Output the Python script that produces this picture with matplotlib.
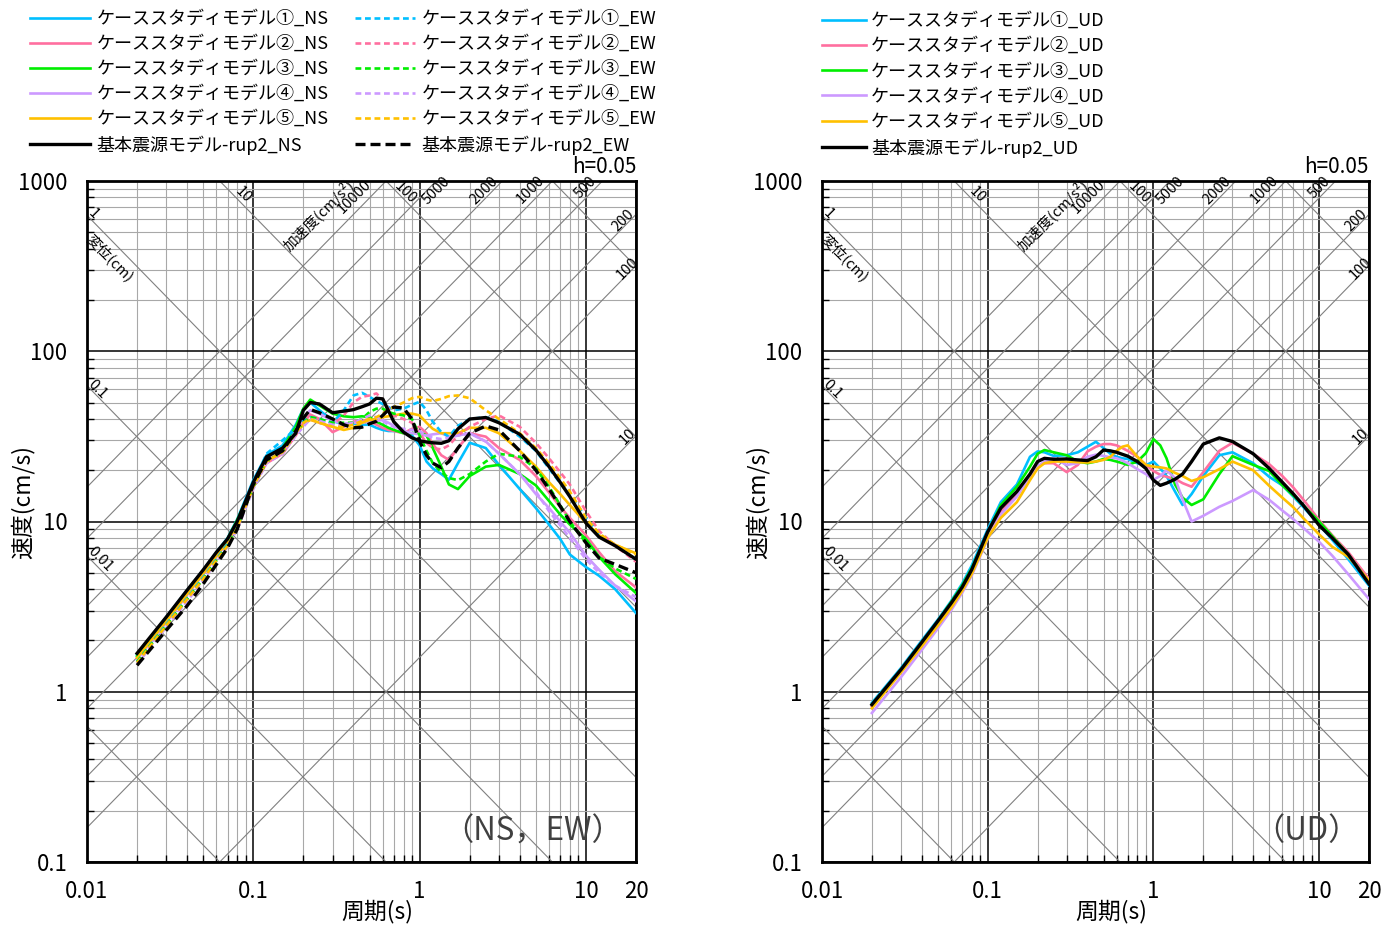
import numpy as np
import matplotlib
matplotlib.use("Agg")
import matplotlib.pyplot as plt
from matplotlib.ticker import LogLocator, FixedLocator, FixedFormatter, NullFormatter

plt.rcParams['font.family'] = ['Noto Sans CJK JP', 'DejaVu Sans']

# period (s)
period = [0.02, 0.03, 0.04, 0.05, 0.06, 0.07, 0.08, 0.1, 0.12, 0.15, 0.18, 0.2, 0.22,
          0.25, 0.3, 0.35, 0.4, 0.45, 0.5, 0.55, 0.6, 0.65, 0.7, 0.8, 0.9, 1.0, 1.1,
          1.2, 1.35, 1.5, 1.7, 2.0, 2.5, 3.0, 4.0, 5.0, 6.0, 7.0, 8.0, 10, 12, 15, 20]

# pseudo velocity response (cm/s), NS
case1_ns = [1.65, 2.75, 3.95, 5.2, 6.6, 8.0, 10.3, 17.5, 24.5, 28.0, 37.0, 46.0, 50.0, 45.0, 39.0,
            37.0, 37.5, 37.0, 37.0, 35.5, 34.5, 34.0, 34.0, 33.5, 32.0, 28.0, 22.5, 20.5, 19.0,
            17.6, 22.0, 29.0, 27.0, 21.5, 15.5, 12.0, 9.6, 7.9, 6.4, 5.4, 4.8, 4.0, 2.9]
case2_ns = [1.58, 2.6, 3.75, 4.95, 6.3, 7.6, 9.6, 16.0, 22.0, 25.0, 32.0, 38.0, 42.5, 40.0, 33.5,
            36.0, 38.5, 39.5, 39.0, 37.0, 35.5, 34.5, 34.0, 33.0, 35.0, 36.0, 33.0, 28.5, 24.5,
            23.0, 27.0, 33.0, 31.5, 27.0, 23.0, 18.5, 14.8, 12.2, 10.5, 8.3, 6.6, 5.1, 4.1]
case3_ns = [1.62, 2.65, 3.8, 5.0, 6.4, 7.9, 10.2, 16.5, 23.5, 27.0, 36.0, 46.0, 52.0, 48.0, 43.0,
            41.5, 41.0, 41.5, 41.0, 38.5, 37.0, 35.5, 34.5, 33.0, 33.0, 33.5, 32.0, 27.0, 21.0,
            16.5, 15.5, 18.5, 21.0, 21.5, 19.0, 16.3, 13.2, 11.0, 9.6, 7.9, 6.2, 4.9, 3.8]
case4_ns = [1.55, 2.55, 3.7, 4.9, 6.2, 7.6, 9.6, 16.0, 23.0, 26.0, 34.0, 41.0, 45.0, 43.0, 39.0,
            37.5, 38.0, 38.0, 38.5, 39.0, 39.5, 38.0, 36.5, 34.0, 33.0, 32.5, 32.0, 32.5, 33.0,
            31.5, 32.0, 33.0, 29.5, 25.0, 19.0, 14.5, 12.0, 10.0, 8.6, 6.3, 5.2, 4.2, 3.4]
case5_ns = [1.58, 2.6, 3.75, 4.95, 6.3, 7.6, 9.6, 16.0, 22.5, 26.0, 33.0, 37.0, 39.5, 38.0, 36.0,
            34.5, 35.5, 38.0, 39.5, 40.0, 41.0, 41.5, 42.0, 43.0, 43.0, 42.0, 38.0, 35.0, 33.0,
            33.0, 33.0, 35.5, 35.5, 33.0, 26.0, 21.0, 17.0, 14.5, 12.5, 9.8, 8.3, 7.3, 6.5]
base_ns = [1.68, 2.75, 3.95, 5.2, 6.6, 7.9, 10.0, 17.0, 24.0, 27.0, 33.0, 45.0, 50.0, 49.0, 43.5,
           44.5, 45.4, 47.2, 49.0, 53.0, 52.5, 44.6, 38.5, 33.5, 31.0, 29.8, 29.3, 29.0, 28.8,
           29.8, 35.0, 40.0, 40.8, 38.0, 32.5, 26.3, 21.0, 17.0, 14.0, 9.8, 8.1, 7.2, 6.0]

# EW
case1_ew = [1.5, 2.5, 3.55, 4.7, 6.0, 7.4, 9.5, 16.5, 25.0, 30.0, 35.0, 39.0, 41.0, 40.0, 38.0,
            45.0, 55.0, 57.0, 54.0, 51.0, 49.0, 47.0, 45.0, 46.0, 48.5, 50.5, 45.0, 38.5, 33.5,
            31.5, 36.5, 40.0, 41.0, 38.5, 31.5, 26.0, 20.5, 16.8, 14.2, 10.6, 8.5, 7.2, 6.0]
case2_ew = [1.48, 2.45, 3.5, 4.6, 5.9, 7.2, 9.2, 16.0, 22.5, 25.0, 33.0, 38.0, 40.0, 38.0, 37.0,
            42.0, 50.0, 54.0, 55.0, 56.5, 52.0, 46.0, 42.0, 40.0, 38.0, 33.0, 29.0, 27.0, 26.5,
            28.0, 32.0, 36.0, 40.0, 42.0, 36.0, 29.0, 23.5, 19.5, 16.5, 11.5, 8.8, 7.2, 5.8]
case3_ew = [1.5, 2.45, 3.5, 4.6, 5.9, 7.2, 9.2, 16.0, 22.5, 25.5, 33.0, 38.0, 41.0, 40.0, 38.0,
            38.0, 38.0, 40.0, 44.0, 46.0, 46.0, 44.0, 43.0, 42.0, 40.0, 32.0, 26.0, 22.0, 19.5,
            18.0, 17.5, 19.0, 22.5, 25.0, 24.0, 20.5, 16.0, 12.5, 10.0, 7.5, 6.2, 5.3, 4.6]
case4_ew = [1.45, 2.4, 3.4, 4.5, 5.8, 7.1, 9.0, 15.5, 22.0, 25.0, 32.0, 36.0, 40.0, 39.0, 37.0,
            37.0, 38.0, 40.0, 42.0, 41.0, 39.0, 37.0, 36.0, 35.0, 34.5, 34.0, 32.0, 31.0, 30.5,
            31.0, 32.0, 33.0, 29.5, 25.0, 19.0, 15.0, 11.5, 9.5, 8.0, 6.0, 5.0, 4.2, 3.6]
case5_ew = [1.48, 2.45, 3.5, 4.6, 5.9, 7.2, 9.2, 16.0, 22.5, 25.5, 33.0, 38.0, 40.0, 38.0, 36.0,
            36.0, 37.0, 39.0, 40.0, 41.0, 43.0, 45.5, 47.0, 50.0, 53.0, 54.0, 52.0, 51.0, 52.5,
            54.5, 55.0, 53.0, 45.0, 40.0, 33.0, 27.0, 22.0, 18.0, 15.0, 10.5, 8.5, 7.3, 6.4]
base_ew = [1.43, 2.3, 3.2, 4.3, 5.6, 7.0, 9.0, 16.5, 23.0, 26.0, 34.0, 40.5, 45.5, 43.5, 40.0,
           37.0, 35.5, 35.8, 37.5, 38.8, 42.0, 45.4, 47.0, 46.4, 40.0, 29.5, 24.5, 22.0, 20.7,
           22.5, 27.0, 33.0, 36.4, 34.5, 26.0, 20.0, 15.5, 12.3, 10.0, 7.5, 6.1, 5.6, 5.0]

# UD
case1_ud = [0.86, 1.38, 2.0, 2.65, 3.4, 4.3, 5.5, 9.0, 13.0, 16.5, 24.0, 25.8, 25.5, 24.3, 24.5,
            25.5, 27.5, 29.4, 27.0, 25.0, 24.0, 23.5, 23.3, 22.0, 21.4, 22.5, 20.5, 18.5, 15.0,
            12.5, 14.5, 18.5, 24.5, 25.5, 22.0, 18.3, 16.3, 14.0, 12.2, 9.6, 7.8, 6.0, 4.2]
case2_ud = [0.82, 1.32, 1.9, 2.55, 3.25, 4.1, 5.2, 8.5, 11.5, 14.5, 18.5, 21.0, 22.0, 22.0, 19.5,
            21.5, 25.8, 27.5, 28.5, 28.5, 28.0, 27.0, 26.0, 24.0, 21.5, 19.8, 18.8, 18.3, 17.8,
            16.8, 16.0, 19.5, 26.0, 29.0, 25.0, 21.7, 18.5, 15.8, 13.5, 10.2, 8.3, 6.6, 4.6]
case3_ud = [0.84, 1.35, 1.95, 2.6, 3.35, 4.2, 5.3, 8.6, 12.5, 16.0, 21.0, 25.0, 26.3, 25.5, 24.5,
            22.5, 22.0, 22.5, 23.3, 23.0, 22.5, 22.0, 21.5, 22.5, 25.2, 30.5, 28.0, 23.5, 16.5,
            13.8, 12.5, 13.5, 19.0, 24.2, 21.5, 19.8, 16.3, 14.2, 12.5, 10.0, 8.2, 6.4, 4.4]
case4_ud = [0.75, 1.22, 1.76, 2.35, 3.0, 3.8, 4.8, 7.9, 11.0, 14.0, 18.5, 21.0, 22.5, 23.5, 21.5,
            22.0, 24.0, 24.7, 24.3, 23.8, 23.5, 22.8, 22.0, 20.3, 19.0, 17.6, 18.5, 20.0, 18.0,
            13.5, 10.0, 10.8, 12.2, 13.2, 15.3, 13.4, 11.6, 10.3, 9.2, 7.6, 6.3, 4.9, 3.5]
case5_ud = [0.80, 1.30, 1.85, 2.45, 3.1, 3.9, 4.9, 8.0, 10.5, 13.0, 17.5, 20.5, 22.0, 22.5, 22.5,
            22.3, 22.2, 22.5, 23.0, 24.0, 26.0, 27.5, 28.0, 24.0, 21.5, 21.0, 20.8, 20.5, 19.3,
            18.5, 17.3, 18.2, 20.3, 22.5, 20.0, 16.2, 13.8, 12.1, 10.5, 8.4, 7.1, 6.2, 4.5]
base_ud = [0.84, 1.35, 1.95, 2.6, 3.3, 4.1, 5.2, 8.7, 12.0, 15.0, 19.0, 22.5, 23.5, 23.2, 23.3,
           23.0, 22.8, 24.0, 26.3, 26.0, 25.5, 24.8, 24.2, 22.5, 20.5, 17.5, 16.3, 16.8, 17.7,
           19.0, 22.5, 28.5, 31.0, 29.5, 25.0, 20.5, 17.0, 14.5, 12.5, 9.5, 8.0, 6.4, 4.3]

case_names = ['ケーススタディモデル①', 'ケーススタディモデル②', 'ケーススタディモデル③',
              'ケーススタディモデル④', 'ケーススタディモデル⑤']
base_name = '基本震源モデル-rup2'
case_colors = ['#00BFFF', '#FF6F9F', '#00EE00', '#CC99FF', '#FFC000']

# tripartite guide lines
disp_values = [0.001, 0.01, 0.1, 1, 10, 100, 1000]          # cm
acc_values = [10, 100, 200, 500, 1000, 2000, 5000, 10000]     # cm/s2
disp_labels = [('1', 0.01087, 640), ('0.1', 0.0115, 59.3), ('0.01', 0.012, 5.96),
               ('10', 0.0871, 828), ('100', 0.823, 850)]
acc_labels = [('10000', 0.405, 805), ('5000', 1.26, 874), ('2000', 2.43, 874),
              ('1000', 4.67, 885), ('500', 10.0, 910), ('200', 16.7, 590),
              ('100', 17.7, 308), ('10', 17.9, 31.7)]

fig = plt.figure(figsize=(13.84, 9.26), dpi=100)
W, H = 1384, 926
ax1 = fig.add_axes([87 / W, 64 / H, 549 / W, 681 / H])
ax2 = fig.add_axes([822 / W, 64 / H, 547 / W, 681 / H])


def setup(ax, tag, tag_x):
    ax.set_xscale('log')
    ax.set_yscale('log')

    t_line = np.array([0.001, 100.0])
    for d in disp_values:
        ax.plot(t_line, 2 * np.pi * d / t_line, color='#808080', lw=0.8, zorder=1)
    for a in acc_values:
        ax.plot(t_line, a * t_line / (2 * np.pi), color='#808080', lw=0.8, zorder=1)
    ax.set_xlim(0.01, 20)
    ax.set_ylim(0.1, 1000)

    for txt, t, v in disp_labels:
        ax.text(t, v, txt, rotation=-45, rotation_mode='anchor', ha='center', va='center',
                fontsize=10.5, zorder=3, clip_on=False)
    for txt, t, v in acc_labels:
        ax.text(t, v, txt, rotation=45, rotation_mode='anchor', ha='center', va='center',
                fontsize=10.5, zorder=3, clip_on=False)
    ax.text(0.01376, 353, '変位(cm)', rotation=-45, rotation_mode='anchor', ha='center',
            va='center', fontsize=10.5, zorder=3)
    ax.text(0.247, 631, '加速度(cm/s²)', rotation=45, rotation_mode='anchor', ha='center',
            va='center', fontsize=10.5, zorder=3)

    ax.xaxis.set_major_locator(FixedLocator([0.01, 0.1, 1, 10, 20]))
    ax.xaxis.set_major_formatter(FixedFormatter(['0.01', '0.1', '1', '10', '20']))
    ax.yaxis.set_major_locator(FixedLocator([0.1, 1, 10, 100, 1000]))
    ax.yaxis.set_major_formatter(FixedFormatter(['0.1', '1', '10', '100', '1000']))
    ax.xaxis.set_minor_locator(LogLocator(base=10, subs=np.arange(2, 10), numticks=20))
    ax.yaxis.set_minor_locator(LogLocator(base=10, subs=np.arange(2, 10), numticks=20))
    ax.xaxis.set_minor_formatter(NullFormatter())
    ax.yaxis.set_minor_formatter(NullFormatter())
    ax.tick_params(which='major', length=0, labelsize=16)
    ax.tick_params(axis='x', which='major', pad=13)
    ax.tick_params(axis='y', which='major', pad=14)
    ax.tick_params(which='minor', direction='in', length=5, width=1, color='black')

    ax.grid(True, which='major', color='black', lw=1.1)
    ax.grid(True, which='minor', color='#A8A8A8', lw=0.8)
    ax.set_axisbelow(True)
    for s in ax.spines.values():
        s.set_linewidth(2.0)

    ax.set_xlabel('周期(s)', fontsize=16.5, va='center')
    ax.set_ylabel('速度(cm/s)', fontsize=16.5, va='center')
    ax.xaxis.set_label_coords(0.528, -0.073)
    ax.yaxis.set_label_coords(-0.118, 0.528)
    ax.text(1.0, 1.004, 'h=0.05', transform=ax.transAxes, ha='right', va='bottom', fontsize=15)
    ax.text(tag_x, 0.045, tag, transform=ax.transAxes, ha='center', va='center',
            fontsize=22.5, color='#404040', zorder=3)


setup(ax1, '（NS，EW）', 0.812)
setup(ax2, '（UD）', 0.885)

ns_series = [case1_ns, case2_ns, case3_ns, case4_ns, case5_ns]
ew_series = [case1_ew, case2_ew, case3_ew, case4_ew, case5_ew]
ud_series = [case1_ud, case2_ud, case3_ud, case4_ud, case5_ud]

dash_c = (0, (2.2, 1.4))
dash_k = (0, (3.0, 1.5))

h_ns, h_ew, h_ud = [], [], []
for name, col, vals in zip(case_names, case_colors, ns_series):
    ln, = ax1.plot(period, vals, color=col, lw=1.9, zorder=4, label=name + '_NS')
    h_ns.append(ln)
for name, col, vals in zip(case_names, case_colors, ew_series):
    ln, = ax1.plot(period, vals, color=col, lw=1.9, ls=dash_c, zorder=4, label=name + '_EW')
    h_ew.append(ln)
ln, = ax1.plot(period, base_ns, color='black', lw=2.4, zorder=6, label=base_name + '_NS')
h_ns.append(ln)
ln, = ax1.plot(period, base_ew, color='black', lw=2.4, ls=dash_k, zorder=5, label=base_name + '_EW')
h_ew.append(ln)

for name, col, vals in zip(case_names, case_colors, ud_series):
    ln, = ax2.plot(period, vals, color=col, lw=1.9, zorder=4, label=name + '_UD')
    h_ud.append(ln)
ln, = ax2.plot(period, base_ud, color='black', lw=2.4, zorder=6, label=base_name + '_UD')
h_ud.append(ln)

fig.legend(handles=h_ns + h_ew, ncol=2, loc='upper left', bbox_to_anchor=(30 / W, 1 - 10 / H),
           frameon=False, fontsize=13, handlelength=3.3, handletextpad=0.4,
           columnspacing=1.45, labelspacing=0.39, borderpad=0, borderaxespad=0)
fig.legend(handles=h_ud, ncol=1, loc='upper left', bbox_to_anchor=(822 / W, 1 - 12 / H),
           frameon=False, fontsize=13, handlelength=2.45, handletextpad=0.28,
           labelspacing=0.4, borderpad=0, borderaxespad=0)

fig.savefig('out.png', dpi=100)
